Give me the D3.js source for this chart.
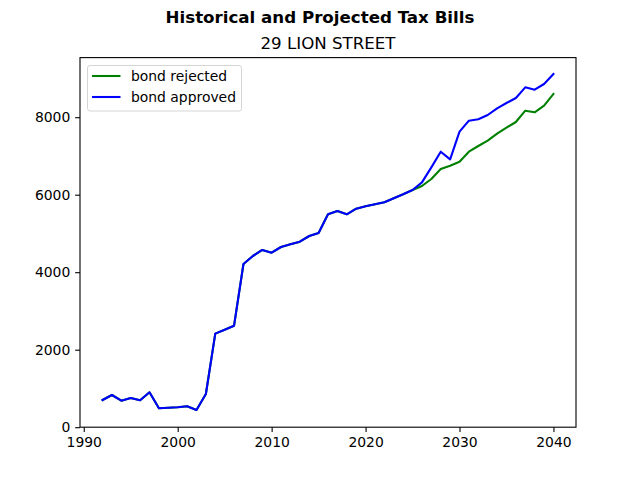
<!DOCTYPE html>
<html>
<head>
<meta charset="utf-8">
<script src="https://cdn.jsdelivr.net/npm/d3@7"></script>
<style>
  body { margin: 0; background: #fff; }
  svg { display: block; font-family: "DejaVu Sans", sans-serif; }
</style>
</head>
<body>
<div id="chart"></div>
<script>
// data
var years = d3.range(1992, 2041);

var approved = [702, 831, 685, 754, 694, 900, 487, 500, 515, 539, 444, 857,
  2414, 2516, 2620, 4212, 4418, 4573, 4504, 4650, 4719, 4787, 4934, 5011,
  5494, 5579, 5494, 5639, 5700, 5752, 5804, 5907, 6010, 6121, 6319, 6706,
  7110, 6913, 7627, 7910, 7946, 8057, 8230, 8366, 8495, 8771, 8710, 8857, 9115];

var rejected = [702, 831, 685, 754, 694, 900, 487, 500, 515, 539, 444, 857,
  2414, 2516, 2620, 4212, 4418, 4573, 4504, 4650, 4719, 4787, 4934, 5011,
  5494, 5579, 5494, 5639, 5700, 5752, 5804, 5907, 6010, 6121, 6224, 6405,
  6663, 6749, 6852, 7110, 7257, 7394, 7575, 7729, 7876, 8168, 8126, 8297, 8599];

var xTicks = [1990, 2000, 2010, 2020, 2030, 2040];
var yTicks = [0, 2000, 4000, 6000, 8000];

var seriesNames = ["bond rejected", "bond approved"];
var seriesColors = ["green", "blue"];

var w = 640, h = 480;
// axes box (window.top is taken, so plain names here)
var axLeft = 80, axRight = 576, axTop = 57.6, axBottom = 427.2;

var svg = d3.select("#chart").append("svg")
  .attr("width", w)
  .attr("height", h);

var x = d3.scaleLinear().domain([1989.6, 2042.4]).range([axLeft, axRight]);
var y = d3.scaleLinear().domain([0, 9538]).range([axBottom, axTop]);

// titles
svg.append("text")
  .attr("x", w / 2).attr("y", 22.5)
  .attr("text-anchor", "middle")
  .style("font-size", "16.67px")
  .style("font-weight", "bold")
  .text("Historical and Projected Tax Bills");

svg.append("text")
  .attr("x", (axLeft + axRight) / 2).attr("y", 49.3)
  .attr("text-anchor", "middle")
  .style("font-size", "16.67px")
  .text("29 LION STREET");

// axes
var xAxis = svg.append("g")
  .attr("transform", "translate(0," + axBottom + ")")
  .call(d3.axisBottom(x).tickValues(xTicks).tickFormat(d3.format("d"))
    .tickSizeInner(4.86).tickSizeOuter(0).tickPadding(4.86));

var yAxis = svg.append("g")
  .attr("transform", "translate(" + axLeft + ",0)")
  .call(d3.axisLeft(y).tickValues(yTicks).tickFormat(d3.format("d"))
    .tickSizeInner(4.86).tickSizeOuter(0).tickPadding(4.86));

[xAxis, yAxis].forEach(function(a) {
  a.select(".domain").remove();
  a.selectAll("line").attr("stroke", "#000").attr("stroke-width", 1.1);
  a.selectAll("text")
    .attr("fill", "#000")
    .style("font-size", "13.9px")
    .style("font-family", "DejaVu Sans, sans-serif");
});

// lines
var line = d3.line()
  .x(function(d, i) { return x(years[i]); })
  .y(function(d) { return y(d); });

var plot = svg.append("g");
[rejected, approved].forEach(function(s, i) {
  plot.append("path")
    .attr("d", line(s))
    .attr("fill", "none")
    .attr("stroke", seriesColors[i])
    .attr("stroke-width", 2.08)
    .attr("stroke-linejoin", "round")
    .attr("stroke-linecap", "square");
});

// frame
svg.append("rect")
  .attr("x", axLeft).attr("y", axTop)
  .attr("width", axRight - axLeft).attr("height", axBottom - axTop)
  .attr("fill", "none")
  .attr("stroke", "#000")
  .attr("stroke-width", 1.1);

// legend
var legend = svg.append("g");
legend.append("rect")
  .attr("x", 87.5).attr("y", 65.5)
  .attr("width", 154).attr("height", 45.5)
  .attr("rx", 2.5)
  .attr("fill", "#fff").attr("fill-opacity", 0.8)
  .attr("stroke", "#d5d5d5").attr("stroke-width", 1);

seriesNames.forEach(function(name, i) {
  var cy = 76 + i * 21;
  legend.append("line")
    .attr("x1", 92).attr("x2", 120.5)
    .attr("y1", cy).attr("y2", cy)
    .attr("stroke", seriesColors[i])
    .attr("stroke-width", 2.08);
  legend.append("text")
    .attr("x", 131).attr("y", cy + 5)
    .style("font-size", "13.9px")
    .text(name);
});
</script>
</body>
</html>
